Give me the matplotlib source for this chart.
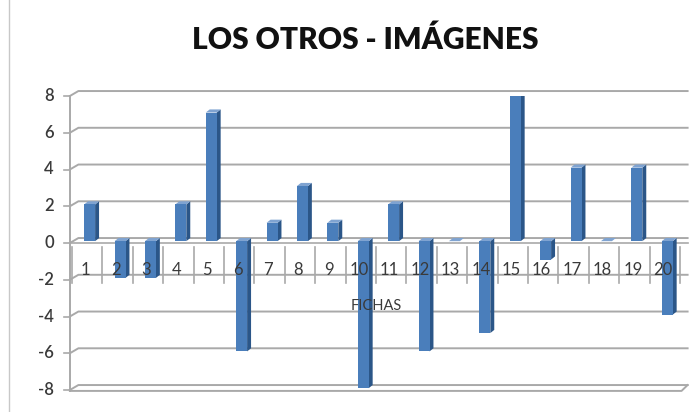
import matplotlib
matplotlib.use('Agg')
import matplotlib.pyplot as plt
from matplotlib.patches import Polygon, Rectangle
from matplotlib.lines import Line2D

# data
fichas = list(range(1, 21))
valores = [2, -2, -2, 2, 7, -6, 1, 3, 1, -8, 2, -6, 0, -5, 8, -1, 4, 0, 4, -4]
yticks = [8, 6, 4, 2, 0, -2, -4, -6, -8]

plt.rcParams['font.family'] = ['Lato', 'DejaVu Sans']

fig = plt.figure(figsize=(6.99, 4.12), dpi=100)
ax = fig.add_axes([72 / 699, 22 / 412, 608 / 699, 294 / 412])
ax.set_xlim(0.5, 20.5)
ax.set_ylim(-8, 8)
ax.axis('off')

grid_c = '#A9A9A9'
right = 20.75
# back wall gridlines with a small perspective step on the left
gdx, gdy = 0.28, 0.27
for t in yticks:
    ax.plot([0.43, 0.43 + gdx, right], [t, t + gdy, t + gdy], color=grid_c, lw=1.4,
            clip_on=False, zorder=1)
    ax.plot([0.24, 0.43], [t, t], color=grid_c, lw=1.2, clip_on=False)
    ax.text(-0.1, t, str(t), ha='right', va='center', fontsize=12, fontweight='semibold',
            color='#3A3A3A')
# floor edge at the bottom
ax.plot([0.43, right - 0.2, right], [-8 - 0.05, -8 - 0.05, -8 + gdy], color=grid_c,
        lw=1.4, clip_on=False)
# vertical axis
ax.plot([0.43, 0.43], [-8.05, 8], color=grid_c, lw=1.4, clip_on=False)
# horizontal axis at zero
ax.plot([0.43, right], [0, 0], color=grid_c, lw=1.2, clip_on=False, zorder=1)

# category cells
for k in range(21):
    ax.plot([k + 0.5, k + 0.5], [-0.2, -2.2], color=grid_c, lw=1.2, clip_on=False, zorder=1)
for f in fichas:
    ax.text(f - 0.05, -1.45, str(f), ha='center', va='center', fontsize=12,
            color='#3A3A3A', zorder=6)
ax.text(10.5, -3.45, 'FICHAS', ha='center', va='center', fontsize=10.5,
        color='#3A3A3A', zorder=6)

# 3D-looking bars
w, dx, dy = 0.36, 0.13, 0.17
front_c, side_c, top_c = '#4A7EBB', '#2B5688', '#7FA3D1'
for f, v in zip(fichas, valores):
    x0 = f + 0.08 - w / 2
    x1 = x0 + w
    b = 0.1
    top = v + b
    lo, hi = min(b, top), max(b, top)
    ax.add_patch(Polygon([(x1, lo), (x1 + dx, lo + dy), (x1 + dx, hi + dy), (x1, hi)],
                         closed=True, facecolor=side_c, edgecolor='none', zorder=3))
    ax.add_patch(Polygon([(x0, hi), (x0 + dx, hi + dy), (x1 + dx, hi + dy), (x1, hi)],
                         closed=True, facecolor=top_c, edgecolor='none', zorder=3))
    ax.add_patch(Rectangle((x0, lo), w, hi - lo, facecolor=front_c, edgecolor='none', zorder=4))

fig.text(365 / 699, 1 - 40 / 412, 'LOS OTROS - IMÁGENES', ha='center', va='center',
         fontsize=21.5, fontweight='heavy', color='#111111')

# faint frame line at the far left
fig.add_artist(Line2D([9 / 699, 9 / 699], [0, 1], color='#C8C8C8', lw=1))

fig.savefig('out.png', dpi=100)
